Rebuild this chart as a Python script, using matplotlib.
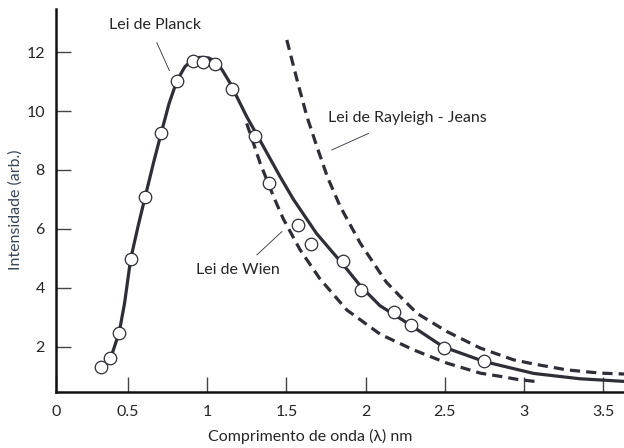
import matplotlib
matplotlib.use("Agg")
import matplotlib.pyplot as plt

plt.rcParams["font.family"] = ["Lato", "DejaVu Sans"]

# Planck curve (solid line)
planck_x = [0.40, 0.446, 0.48, 0.518, 0.565, 0.61, 0.66, 0.71, 0.76, 0.81,
            0.86, 0.91, 0.955, 1.01, 1.06, 1.10, 1.145, 1.20, 1.25, 1.356,
            1.461, 1.545, 1.69, 1.86, 1.97, 2.09, 2.28, 2.49, 2.75, 3.06,
            3.35, 3.63]
planck_y = [1.75, 2.5, 3.5, 4.98, 6.1, 7.1, 8.2, 9.24, 10.25, 11.03,
            11.5, 11.75, 11.82, 11.80, 11.67, 11.35, 10.95, 10.35, 9.81, 8.79,
            7.77, 7.0, 5.85, 4.78, 4.05, 3.4, 2.75, 2.0, 1.5, 1.1,
            0.92, 0.83]

# measured points (open circles)
obs_x = [0.33, 0.39, 0.446, 0.518, 0.61, 0.71, 0.81, 0.91, 0.977, 1.05, 1.156,
         1.305, 1.393, 1.576, 1.655, 1.86, 1.972, 2.176, 2.288, 2.492, 2.75]
obs_y = [1.33, 1.64, 2.46, 4.98, 7.10, 9.24, 11.03, 11.69, 11.67, 11.6, 10.74,
         9.14, 7.56, 6.14, 5.49, 4.92, 3.93, 3.18, 2.75, 1.96, 1.53]

# Rayleigh-Jeans (dashed)
rj_x = [1.503, 1.576, 1.63, 1.693, 1.76, 1.84, 1.966, 2.13, 2.22, 2.324,
        2.513, 2.723, 2.934, 3.06, 3.27, 3.48, 3.63]
rj_y = [12.41, 10.88, 9.81, 8.79, 7.75, 6.76, 5.52, 4.2, 3.7, 3.14,
        2.52, 1.96, 1.56, 1.42, 1.22, 1.11, 1.08]

# Wien (dashed)
wien_x = [1.25, 1.335, 1.419, 1.48, 1.587, 1.713, 1.882, 2.092, 2.302,
          2.513, 2.723, 2.85, 2.955, 3.08]
wien_y = [9.58, 8.23, 7.1, 6.35, 5.29, 4.3, 3.25, 2.43, 1.9,
          1.45, 1.11, 1.0, 0.9, 0.82]

x_ticks = [0.5, 1, 1.5, 2, 2.5, 3, 3.5]
y_ticks = [2, 4, 6, 8, 10, 12]

ink = "#2e2e36"
txt = "#262626"

fig = plt.figure(figsize=(6.24, 4.48), dpi=100)
ax = fig.add_axes([56 / 624, 56 / 448, 568 / 624, 383 / 448])

ax.plot(planck_x, planck_y, color=ink, lw=2.3, solid_capstyle="round",
        solid_joinstyle="round", zorder=3)
ax.plot(rj_x, rj_y, color=ink, lw=2.3, dashes=(3.2, 1.9), zorder=2)
ax.plot(wien_x, wien_y, color=ink, lw=2.3, dashes=(3.2, 1.9), zorder=2)
ax.plot(obs_x, obs_y, "o", ms=9, mfc="white", mec=ink, mew=0.9, zorder=4)

# labels with thin pointer lines
ax.text(0.67, 12.92, "Lei de Planck", ha="center", va="center", fontsize=11.5, color=txt)
ax.plot([0.683, 0.762], [12.32, 11.37], color=ink, lw=0.6)
ax.text(1.765, 9.76, "Lei de Rayleigh - Jeans", ha="left", va="center", fontsize=11.5, color=txt)
ax.plot([2.018, 1.787], [9.24, 8.68], color=ink, lw=0.6)
ax.text(0.93, 4.61, "Lei de Wien", ha="left", va="center", fontsize=11.5, color=txt)
ax.plot([1.314, 1.472], [5.12, 5.91], color=ink, lw=0.6)

ax.set_xlim(0.047, 3.63)
ax.set_ylim(0.47, 13.46)
ax.set_xticks([0.047] + x_ticks)
ax.set_xticklabels(["0"] + [f"{t:g}" for t in x_ticks])
ax.set_yticks(y_ticks)

for side in ["top", "right"]:
    ax.spines[side].set_visible(False)
for side in ["left", "bottom"]:
    ax.spines[side].set_linewidth(1.8)
    ax.spines[side].set_color("#111111")

ax.tick_params(axis="both", direction="in", length=11, width=1.0, color="#444444",
               labelsize=11.5, labelcolor=txt)
ax.tick_params(axis="x", pad=9)
ax.tick_params(axis="y", pad=8)

ax.set_xlabel("Comprimento de onda (λ) nm", fontsize=11.5, color=txt, va="center")
ax.xaxis.set_label_coords(0.447, -0.117)
ax.set_ylabel("Intensidade (arb.)", fontsize=11.5, color="#3a4558", va="center")
ax.yaxis.set_label_coords(-0.072, 0.476)

fig.savefig("out.png", dpi=100)
